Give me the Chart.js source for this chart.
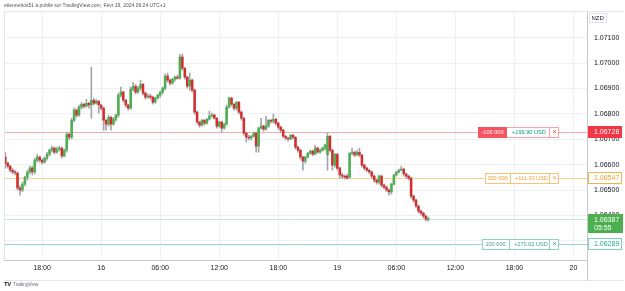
<!DOCTYPE html>
<html>
<head>
<meta charset="utf-8">
<script src="https://cdn.jsdelivr.net/npm/chart.js@4.4.1/dist/chart.umd.min.js"></script>
<style>
  html, body { margin: 0; padding: 0; background: #fff; }
  #wrap { position: relative; width: 625px; height: 291px; overflow: hidden; font-family: "Liberation Sans", Arial, sans-serif; }
  #chart { position: absolute; left: 0; top: 0; }
  #head { position: absolute; left: 4px; top: 2px; font-size: 5px; line-height: 6px; color: #50535e; white-space: nowrap; }
  #foot { position: absolute; left: 4px; top: 281px; font-size: 4.6px; line-height: 6px; color: #6a6d78; white-space: nowrap; }
  #foot b { color: #131722; font-size: 6px; margin-right: 2px; letter-spacing: -0.3px; }
</style>
</head>
<body>
<div id="wrap">
  <canvas id="chart" width="625" height="291"></canvas>
  <div id="head">etiennebos51 a publié sur TradingView.com, Févr 19, 2024 09:24 UTC+1</div>
  <div id="foot"><b>TV</b>TradingView</div>
</div>
<script>
// NZD/USD 15-minute candles, Feb 15 14:15 -> Feb 19 09:15 (UTC+1), weekend skipped
const opens = [
  1.06630, 1.06606, 1.06594, 1.06578, 1.06571, 1.06567, 1.06508, 1.06500, 1.06523, 1.06551,
  1.06571, 1.06586, 1.06571, 1.06618, 1.06630, 1.06618, 1.06610, 1.06626, 1.06641, 1.06657,
  1.06665, 1.06649, 1.06661, 1.06665, 1.06634, 1.06657, 1.06720, 1.06708, 1.06775, 1.06815,
  1.06795, 1.06827, 1.06838, 1.06831, 1.06842, 1.06835, 1.06854, 1.06842, 1.06850, 1.06835,
  1.06823, 1.06775, 1.06760, 1.06787, 1.06760, 1.06779, 1.06795, 1.06874, 1.06886, 1.06854,
  1.06835, 1.06823, 1.06898, 1.06909, 1.06886, 1.06902, 1.06917, 1.06882, 1.06866, 1.06870,
  1.06866, 1.06846, 1.06862, 1.06874, 1.06886, 1.06902, 1.06949, 1.06933, 1.06921, 1.06937,
  1.06945, 1.06941, 1.07024, 1.06980, 1.06945, 1.06909, 1.06933, 1.06894, 1.06807, 1.06768,
  1.06756, 1.06775, 1.06764, 1.06779, 1.06791, 1.06795, 1.06783, 1.06752, 1.06768, 1.06744,
  1.06760, 1.06827, 1.06862, 1.06838, 1.06823, 1.06846, 1.06807, 1.06783, 1.06724, 1.06708,
  1.06705, 1.06712, 1.06724, 1.06673, 1.06744, 1.06752, 1.06740, 1.06752, 1.06775, 1.06771,
  1.06779, 1.06764, 1.06748, 1.06736, 1.06712, 1.06705, 1.06701, 1.06716, 1.06708, 1.06669,
  1.06657, 1.06630, 1.06614, 1.06630, 1.06645, 1.06653, 1.06641, 1.06665, 1.06649, 1.06657,
  1.06665, 1.06638, 1.06712, 1.06657, 1.06598, 1.06641, 1.06586, 1.06559, 1.06555, 1.06555,
  1.06551, 1.06645, 1.06649, 1.06638, 1.06649, 1.06638, 1.06598, 1.06586, 1.06578, 1.06571,
  1.06555, 1.06539, 1.06531, 1.06555, 1.06519, 1.06511, 1.06500, 1.06492, 1.06523, 1.06559,
  1.06571, 1.06578, 1.06582, 1.06563, 1.06555, 1.06547, 1.06476, 1.06460, 1.06437, 1.06417,
  1.06409, 1.06397, 1.06383
];
const highs = [
  1.06649, 1.06610, 1.06598, 1.06586, 1.06578, 1.06571, 1.06516, 1.06531, 1.06555, 1.06578,
  1.06594, 1.06594, 1.06626, 1.06641, 1.06634, 1.06622, 1.06630, 1.06649, 1.06661, 1.06673,
  1.06669, 1.06669, 1.06673, 1.06669, 1.06661, 1.06728, 1.06724, 1.06783, 1.06823, 1.06819,
  1.06835, 1.06846, 1.06842, 1.06858, 1.06846, 1.06984, 1.06862, 1.06858, 1.06854, 1.06838,
  1.06827, 1.06779, 1.06795, 1.06791, 1.06787, 1.06799, 1.06882, 1.06906, 1.06890, 1.06858,
  1.06838, 1.06906, 1.06925, 1.06917, 1.06909, 1.06933, 1.06921, 1.06886, 1.06878, 1.06878,
  1.06870, 1.06866, 1.06878, 1.06890, 1.06906, 1.06957, 1.06961, 1.06937, 1.06941, 1.06949,
  1.06953, 1.07035, 1.07035, 1.06984, 1.06949, 1.06961, 1.06937, 1.06898, 1.06811, 1.06771,
  1.06779, 1.06779, 1.06783, 1.06811, 1.06803, 1.06799, 1.06787, 1.06771, 1.06771, 1.06764,
  1.06835, 1.06866, 1.06866, 1.06842, 1.06850, 1.06850, 1.06811, 1.06787, 1.06728, 1.06716,
  1.06716, 1.06728, 1.06728, 1.06748, 1.06783, 1.06756, 1.06791, 1.06779, 1.06779, 1.06799,
  1.06783, 1.06768, 1.06752, 1.06740, 1.06716, 1.06708, 1.06720, 1.06720, 1.06712, 1.06673,
  1.06661, 1.06634, 1.06634, 1.06649, 1.06657, 1.06657, 1.06677, 1.06669, 1.06661, 1.06669,
  1.06681, 1.06724, 1.06716, 1.06661, 1.06645, 1.06645, 1.06590, 1.06567, 1.06559, 1.06563,
  1.06649, 1.06665, 1.06653, 1.06657, 1.06665, 1.06641, 1.06602, 1.06590, 1.06582, 1.06575,
  1.06559, 1.06543, 1.06559, 1.06559, 1.06523, 1.06516, 1.06504, 1.06527, 1.06563, 1.06575,
  1.06582, 1.06594, 1.06586, 1.06567, 1.06559, 1.06551, 1.06480, 1.06464, 1.06441, 1.06421,
  1.06413, 1.06401, 1.06393
];
const lows = [
  1.06586, 1.06586, 1.06571, 1.06563, 1.06559, 1.06500, 1.06480, 1.06492, 1.06516, 1.06539,
  1.06563, 1.06559, 1.06563, 1.06610, 1.06610, 1.06602, 1.06606, 1.06618, 1.06634, 1.06649,
  1.06641, 1.06645, 1.06653, 1.06626, 1.06630, 1.06649, 1.06697, 1.06701, 1.06768, 1.06787,
  1.06791, 1.06819, 1.06823, 1.06827, 1.06823, 1.06783, 1.06835, 1.06838, 1.06803, 1.06815,
  1.06736, 1.06736, 1.06752, 1.06736, 1.06756, 1.06771, 1.06787, 1.06866, 1.06846, 1.06827,
  1.06815, 1.06819, 1.06890, 1.06878, 1.06882, 1.06894, 1.06874, 1.06858, 1.06862, 1.06858,
  1.06838, 1.06842, 1.06858, 1.06866, 1.06878, 1.06894, 1.06925, 1.06913, 1.06917, 1.06929,
  1.06937, 1.06937, 1.06972, 1.06937, 1.06902, 1.06894, 1.06886, 1.06799, 1.06760, 1.06748,
  1.06752, 1.06756, 1.06760, 1.06775, 1.06787, 1.06779, 1.06744, 1.06748, 1.06728, 1.06740,
  1.06756, 1.06823, 1.06831, 1.06815, 1.06815, 1.06799, 1.06775, 1.06716, 1.06689, 1.06697,
  1.06697, 1.06708, 1.06649, 1.06649, 1.06740, 1.06732, 1.06736, 1.06748, 1.06764, 1.06764,
  1.06756, 1.06740, 1.06728, 1.06705, 1.06697, 1.06693, 1.06697, 1.06701, 1.06661, 1.06649,
  1.06622, 1.06578, 1.06606, 1.06626, 1.06641, 1.06634, 1.06638, 1.06645, 1.06645, 1.06653,
  1.06657, 1.06578, 1.06649, 1.06578, 1.06590, 1.06578, 1.06547, 1.06547, 1.06543, 1.06543,
  1.06547, 1.06638, 1.06630, 1.06634, 1.06630, 1.06590, 1.06578, 1.06571, 1.06563, 1.06547,
  1.06531, 1.06523, 1.06523, 1.06511, 1.06504, 1.06492, 1.06480, 1.06484, 1.06519, 1.06555,
  1.06567, 1.06575, 1.06555, 1.06547, 1.06539, 1.06468, 1.06452, 1.06429, 1.06409, 1.06401,
  1.06389, 1.06377, 1.06377
];
const closes = [
  1.06606, 1.06594, 1.06578, 1.06571, 1.06567, 1.06508, 1.06500, 1.06523, 1.06551, 1.06571,
  1.06586, 1.06571, 1.06618, 1.06630, 1.06618, 1.06610, 1.06626, 1.06641, 1.06657, 1.06665,
  1.06649, 1.06661, 1.06665, 1.06634, 1.06657, 1.06720, 1.06708, 1.06775, 1.06815, 1.06795,
  1.06827, 1.06838, 1.06831, 1.06842, 1.06835, 1.06854, 1.06842, 1.06850, 1.06835, 1.06823,
  1.06775, 1.06760, 1.06787, 1.06760, 1.06779, 1.06795, 1.06874, 1.06886, 1.06854, 1.06835,
  1.06823, 1.06898, 1.06909, 1.06886, 1.06902, 1.06917, 1.06882, 1.06866, 1.06870, 1.06866,
  1.06846, 1.06862, 1.06874, 1.06886, 1.06902, 1.06949, 1.06933, 1.06921, 1.06937, 1.06945,
  1.06941, 1.07024, 1.06980, 1.06945, 1.06909, 1.06933, 1.06894, 1.06807, 1.06768, 1.06756,
  1.06775, 1.06764, 1.06779, 1.06791, 1.06795, 1.06783, 1.06752, 1.06768, 1.06744, 1.06760,
  1.06827, 1.06862, 1.06838, 1.06823, 1.06846, 1.06807, 1.06783, 1.06724, 1.06708, 1.06705,
  1.06712, 1.06724, 1.06673, 1.06744, 1.06752, 1.06740, 1.06752, 1.06775, 1.06771, 1.06779,
  1.06764, 1.06748, 1.06736, 1.06712, 1.06705, 1.06701, 1.06716, 1.06708, 1.06669, 1.06657,
  1.06630, 1.06614, 1.06630, 1.06645, 1.06653, 1.06641, 1.06665, 1.06649, 1.06657, 1.06665,
  1.06677, 1.06712, 1.06657, 1.06598, 1.06641, 1.06586, 1.06559, 1.06555, 1.06551, 1.06547,
  1.06645, 1.06649, 1.06638, 1.06649, 1.06638, 1.06598, 1.06586, 1.06578, 1.06571, 1.06555,
  1.06539, 1.06531, 1.06555, 1.06519, 1.06511, 1.06500, 1.06492, 1.06523, 1.06559, 1.06571,
  1.06578, 1.06582, 1.06563, 1.06555, 1.06547, 1.06476, 1.06460, 1.06437, 1.06417, 1.06409,
  1.06397, 1.06385, 1.06387
];

// time axis: one slot per 15 min, running on past the last candle to the right edge
const slotCount = 237;
const slots = Array.from({ length: slotCount }, (_, i) => i);
const tickSlots = [15, 39, 63, 87, 111, 135, 159, 183, 207, 231];
const tickLabels = ['18:00', '16', '06:00', '12:00', '18:00', '19', '06:00', '12:00', '18:00', '20'];

// open orders / positions
const levelPrices = [1.06728, 1.06547, 1.06289];
const levelQty = ['-100 000', '100 000', '100 000'];
const levelPnl = ['+199.90 USD', '+111.33 USD', '+270.02 USD'];
const lastPrice = 1.06387;
const countdown = '05:55';

const UP = '#4caf50';
const DOWN = '#d32f2f';
const FONT = '"Liberation Sans", Arial, sans-serif';

Chart.defaults.font.family = FONT;
Chart.defaults.font.size = 7;
Chart.defaults.color = '#131722';

const levelStyle = [
  { line: '#f8a9af', tagFill: '#f23645', tagText: '#fff', tagBorder: '#f23645', qtyFill: '#f7525f', qtyText: '#fff', border: '#f7a1a8', pnl: '#089981', cross: '#f23645', x: 478, split: 507 },
  { line: '#fcd08a', tagFill: '#fff', tagText: '#f0a030', tagBorder: '#f7b24d', qtyFill: null, qtyText: '#e89a2c', border: '#f9c274', pnl: '#e8a33c', cross: '#e8a33c', x: 485, split: 510 },
  { line: '#92d8cb', tagFill: '#fff', tagText: '#22ab94', tagBorder: '#7fcfc0', qtyFill: null, qtyText: '#4a9c8e', border: '#8fd3c6', pnl: '#3aa391', cross: '#4a9c8e', x: 482, split: 509 }
];

function box(ctx, x, y, w, h, fill, stroke) {
  if (fill) {
    ctx.fillStyle = fill;
    ctx.fillRect(x, y, w, h);
  }
  if (stroke) {
    ctx.strokeStyle = stroke;
    ctx.lineWidth = 1;
    ctx.strokeRect(x + 0.5, y + 0.5, w - 1, h - 1);
  }
}

function vline(ctx, x, y0, y1, color) {
  ctx.strokeStyle = color;
  ctx.beginPath(); ctx.moveTo(x + 0.5, y0); ctx.lineTo(x + 0.5, y1); ctx.stroke();
}

const overlay = {
  id: 'overlay',
  beforeDatasetsDraw(chart) {
    const { ctx, chartArea: a, scales: { y } } = chart;
    ctx.save();
    ctx.lineWidth = 1;
    levelPrices.forEach((p, i) => {
      const py = Math.round(y.getPixelForValue(p)) + 0.5;
      ctx.strokeStyle = levelStyle[i].line;
      ctx.beginPath(); ctx.moveTo(a.left, py); ctx.lineTo(a.right, py); ctx.stroke();
    });
    const ly = Math.round(y.getPixelForValue(lastPrice)) + 0.5;
    ctx.strokeStyle = '#cfe8d0';
    ctx.beginPath(); ctx.moveTo(a.left, ly); ctx.lineTo(a.right, ly); ctx.stroke();
    ctx.restore();
  },
  afterDraw(chart) {
    const { ctx, chartArea: a, scales: { y } } = chart;
    const W = chart.width;
    ctx.save();
    // frame lines
    ctx.lineWidth = 1;
    ctx.strokeStyle = '#e3e5ea';
    ctx.beginPath();
    ctx.moveTo(a.left + 0.5, a.top); ctx.lineTo(a.left + 0.5, a.bottom);
    ctx.moveTo(a.left, a.top + 0.5); ctx.lineTo(W - 1, a.top + 0.5);
    ctx.moveTo(a.left, 280.5); ctx.lineTo(W - 1, 280.5);
    ctx.stroke();
    vline(ctx, a.right, a.bottom, 281, '#c5c8cf');

    // currency box
    box(ctx, 589, 13, 18, 10, '#fff', '#e0e3eb');
    ctx.font = '6px ' + FONT;
    ctx.fillStyle = '#131722';
    ctx.textBaseline = 'middle';
    ctx.textAlign = 'left';
    ctx.fillText('NZD', 591.5, 18.3);

    // order tags on the lines
    levelPrices.forEach((p, i) => {
      const s = levelStyle[i];
      const cy = Math.round(y.getPixelForValue(p));
      const top = cy - 5;
      const x0 = s.x, x1 = 559;
      box(ctx, x0, top, x1 - x0, 11, '#fff', s.border);
      if (s.qtyFill) box(ctx, x0, top, s.split - x0, 11, s.qtyFill, null);
      else vline(ctx, s.split, top, top + 11, s.border);
      ctx.font = '5.6px ' + FONT;
      ctx.textBaseline = 'middle';
      ctx.textAlign = 'center';
      ctx.fillStyle = s.qtyText;
      ctx.fillText(levelQty[i], (x0 + s.split) / 2, top + 5.8);
      ctx.fillStyle = s.pnl;
      ctx.textAlign = 'left';
      ctx.fillText(levelPnl[i], s.split + 5, top + 5.8);
      vline(ctx, 549, top, top + 11, s.border);
      ctx.fillStyle = s.cross;
      ctx.textAlign = 'center';
      ctx.font = '7px ' + FONT;
      ctx.fillText('×', 554.5, top + 5.5);

      // price tag on the axis
      box(ctx, a.right + 1, cy - 6, 34, 12, s.tagFill, s.tagBorder);
      ctx.font = '7px ' + FONT;
      ctx.fillStyle = s.tagText;
      ctx.textAlign = 'left';
      ctx.fillText(p.toFixed(5), a.right + 7, cy + 0.5);
    });

    // last price + countdown
    const ly = Math.round(y.getPixelForValue(lastPrice));
    box(ctx, a.right + 1, ly - 5, 35, 19, UP, null);
    ctx.font = '7px ' + FONT;
    ctx.fillStyle = '#fff';
    ctx.textAlign = 'left';
    ctx.fillText(lastPrice.toFixed(5), a.right + 7, ly + 1);
    ctx.fillText(countdown, a.right + 7, ly + 9.5);
    ctx.restore();
  }
};

new Chart(document.getElementById('chart'), {
  type: 'bar',
  data: {
    labels: slots,
    datasets: [
      {
        label: 'wick',
        data: highs.map((h, i) => [lows[i], h]),
        backgroundColor: '#a3a6ad',
        barThickness: 1,
        grouped: false,
        order: 2
      },
      {
        label: 'body',
        data: opens.map((o, i) => [o, closes[i]]),
        backgroundColor: closes.map((c, i) => (c >= opens[i] ? UP : DOWN)),
        barThickness: 1.9,
        minBarLength: 1,
        grouped: false,
        order: 1
      }
    ]
  },
  options: {
    responsive: false,
    maintainAspectRatio: false,
    devicePixelRatio: 1,
    animation: false,
    layout: { padding: { left: 4, top: 11, right: 1, bottom: 11 } },
    plugins: { legend: { display: false }, tooltip: { enabled: false } },
    scales: {
      x: {
        type: 'category',
        offset: true,
        afterBuildTicks: axis => { axis.ticks = axis.ticks.filter(t => tickSlots.includes(t.value)); },
        afterFit: axis => { axis.height = 20; },
        ticks: {
          autoSkip: false,
          maxRotation: 0,
          padding: 4,
          callback: v => tickLabels[tickSlots.indexOf(v)]
        },
        grid: { offset: false, color: '#eef0f3', drawTicks: false },
        border: { color: '#c5c8cf' }
      },
      y: {
        position: 'right',
        min: 1.06224,
        max: 1.07205,
        afterFit: axis => { axis.width = 37; },
        ticks: {
          stepSize: 0.001,
          includeBounds: false,
          padding: 7,
          // the 1.07200 line sits on the top border and has no label there
          callback: v => (v > 1.0715 ? null : v.toFixed(5))
        },
        grid: { color: '#eef0f3', drawTicks: false },
        border: { color: '#c5c8cf' }
      }
    }
  },
  plugins: [overlay]
});
</script>
</body>
</html>
